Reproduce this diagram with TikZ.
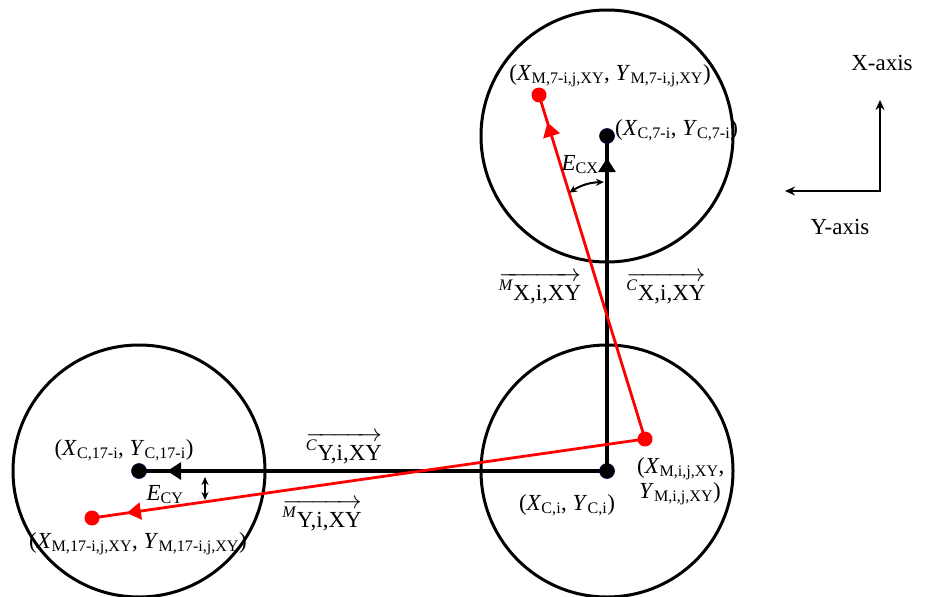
\documentclass[tikz,border=0pt]{standalone}
\usepackage{fontspec}
\setmainfont{Liberation Serif}
\usetikzlibrary{arrows.meta,decorations.markings,calc}
\begin{document}
\begin{tikzpicture}[x=1pt,y=-1pt,
  font=\fontsize{23}{27}\selectfont,
  bigcirc/.style={draw, line width=3pt, circle, minimum size=252pt, inner sep=0pt},
  cdot/.style={circle, fill=black, draw=blue!30!black, line width=0.6pt, minimum size=15pt, inner sep=0pt},
  mdot/.style={circle, fill=red, minimum size=15pt, inner sep=0pt},
  blkline/.style={draw=black, line width=3.2pt},
  redline/.style={draw=red, line width=2.8pt},
  midtip/.style={postaction={decorate}, decoration={markings,
      mark=at position #1 with {\arrow{Triangle[length=14pt,width=17pt]}}}},
  dblarrow/.style={line width=2pt, {Stealth[length=8pt,width=7pt]}-{Stealth[length=8pt,width=7pt]}},
  axisarrow/.style={line width=2.8pt, {Stealth[length=10pt,width=9pt]}-{Stealth[length=10pt,width=9pt]}},
  lbl/.style={inner sep=0pt}
]
\useasboundingbox (0,0) rectangle (932,597);

% circles
\node[bigcirc] (K7) at (607,136) {};
\node[bigcirc] (K0) at (607,471) {};
\node[bigcirc] (K17) at (139,471) {};

% points
\coordinate (c7) at (607,136);
\coordinate (c0) at (607,471);
\coordinate (c17) at (139,471);
\coordinate (m0) at (645,439);
\coordinate (m7) at (539,95);
\coordinate (m17) at (92,518);

% vectors
\draw[blkline, midtip=0.934] (c0) -- (c7);
\draw[blkline, midtip=0.940] (c0) -- (c17);
\draw[redline, midtip=0.92] (m0) -- (m7);
\draw[redline, midtip=0.937] (m0) -- (m17);

% error arrows
\coordinate (ex1) at ($(m0)!0.716!(m7)$);
\coordinate (ex2) at (604,182);
\draw[dblarrow] (ex1) to[bend left=15] (ex2);
\coordinate (ey1) at (205,477);
\coordinate (ey2) at (205,500);
\draw[dblarrow] (ey1) -- (ey2);

% dots
\node[cdot] (C7) at (c7) {};
\node[cdot] (C0) at (c0) {};
\node[cdot] (C17) at (c17) {};
\node[mdot] (M0) at (m0) {};
\node[mdot] (M7) at (m7) {};
\node[mdot] (M17) at (m17) {};

% labels
\node[lbl, anchor=base] (lM7) at (610,80) {(\textit{X}\textsubscript{M,7-i,j,XY}, \textit{Y}\textsubscript{M,7-i,j,XY})};
\node[lbl, anchor=base west] (lC7) at (615,135) {(\textit{X}\textsubscript{C,7-i}, \textit{Y}\textsubscript{C,7-i})};
\node[lbl, anchor=base] (lECX) at (580,170) {\textit{E}\textsubscript{CX}};
\node[lbl, anchor=base] (lMX) at (540,300) {$\overrightarrow{\hbox{\textsuperscript{\textit{M}}X,i,XY}}$};
\node[lbl, anchor=base] (lCX) at (666,300) {$\overrightarrow{\hbox{\textsuperscript{\textit{C}}X,i,XY}}$};
\node[lbl, anchor=base west] (lMi1) at (637,473) {(\textit{X}\textsubscript{M,i,j,XY},};
\node[lbl, anchor=base west] (lMi2) at (639,498) {\textit{Y}\textsubscript{M,i,j,XY})};
\node[lbl, anchor=base] (lCi) at (567,510) {(\textit{X}\textsubscript{C,i}, \textit{Y}\textsubscript{C,i})};
\node[lbl, anchor=base] (lCY) at (344,460) {$\overrightarrow{\hbox{\textsuperscript{\textit{C}}Y,i,XY}}$};
\node[lbl, anchor=base] (lMY) at (322,527) {$\overrightarrow{\hbox{\textsuperscript{\textit{M}}Y,i,XY}}$};
\node[lbl, anchor=base] (lC17) at (124,455) {(\textit{X}\textsubscript{C,17-i}, \textit{Y}\textsubscript{C,17-i})};
\node[lbl, anchor=base] (lECY) at (165,500) {\textit{E}\textsubscript{CY}};
\node[lbl, anchor=base] (lM17) at (138,548) {(\textit{X}\textsubscript{M,17-i,j,XY}, \textit{Y}\textsubscript{M,17-i,j,XY})};

% axes
\coordinate (ax0) at (880,191);
\coordinate (axX) at (880,100);
\coordinate (axY) at (785,191);
\draw[axisarrow] (axX) -- (ax0) -- (axY);
\node[lbl, anchor=base] (lX) at (882,70) {X-axis};
\node[lbl, anchor=base] (lY) at (840,234) {Y-axis};
\end{tikzpicture}
\end{document}
